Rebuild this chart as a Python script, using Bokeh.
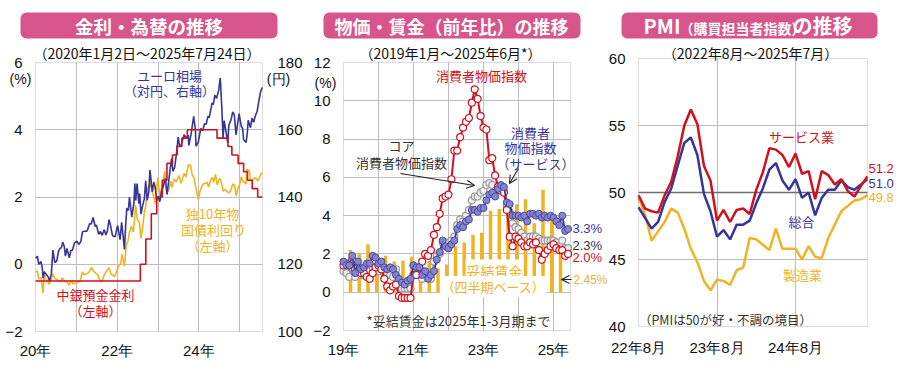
import json
import pandas as pd
from bokeh.plotting import figure
from bokeh.layouts import row
from bokeh.models import (Range1d, LinearAxis, FixedTicker, Label, BoxAnnotation, Grid,
                          Arrow, OpenHead, CustomJSTickFormatter)
from bokeh.embed import file_html
from bokeh.resources import INLINE

# ------------------------------------------------------------------ data
# Panel 1: ECB deposit rate (%), German 10y yield (%), EUR/JPY (yen)
ecb_dates = ["2020-01-02", "2022-07-27", "2022-09-14", "2022-11-02", "2022-12-21",
             "2023-02-08", "2023-03-22", "2023-05-10", "2023-06-21", "2023-08-02",
             "2023-09-20", "2024-06-12", "2024-09-18", "2024-10-23", "2024-12-18",
             "2025-02-05", "2025-03-12", "2025-04-23", "2025-06-11", "2025-07-24"]
ecb_rate = [-0.5, 0.0, 0.75, 1.5, 2.0, 2.5, 3.0, 3.25, 3.5, 3.75,
            4.0, 3.75, 3.5, 3.25, 3.0, 2.75, 2.5, 2.25, 2.0, 2.0]

bund_dates = ["2020-01-02", "2020-01-16", "2020-01-31", "2020-02-19", "2020-02-28", "2020-03-09",
              "2020-03-18", "2020-03-31", "2020-04-15", "2020-04-30", "2020-05-20", "2020-06-05",
              "2020-06-22", "2020-07-14", "2020-07-31", "2020-08-18", "2020-08-27", "2020-09-21",
              "2020-10-07", "2020-10-28", "2020-11-11", "2020-11-30", "2020-12-16", "2020-12-31",
              "2021-01-14", "2021-02-01", "2021-02-25", "2021-03-09", "2021-03-31", "2021-04-21",
              "2021-05-18", "2021-06-02", "2021-06-15", "2021-07-08", "2021-07-21", "2021-08-04",
              "2021-08-20", "2021-09-07", "2021-09-28", "2021-10-21", "2021-11-05", "2021-11-26",
              "2021-12-09", "2021-12-31", "2022-01-19", "2022-02-02", "2022-02-15", "2022-03-07",
              "2022-03-25", "2022-04-08", "2022-04-21", "2022-05-09", "2022-05-26", "2022-06-15",
              "2022-06-30", "2022-07-19", "2022-08-01", "2022-08-17", "2022-08-31", "2022-09-14",
              "2022-09-28", "2022-10-12", "2022-10-21", "2022-11-11", "2022-11-30", "2022-12-07",
              "2022-12-30", "2023-01-18", "2023-02-01", "2023-02-16", "2023-03-02", "2023-03-20",
              "2023-04-06", "2023-04-25", "2023-05-05", "2023-05-26", "2023-06-14", "2023-07-07",
              "2023-07-25", "2023-08-10", "2023-08-22", "2023-09-08", "2023-09-28", "2023-10-04",
              "2023-10-19", "2023-11-03", "2023-11-17", "2023-12-01", "2023-12-15", "2023-12-27",
              "2024-01-12", "2024-01-26", "2024-02-14", "2024-02-29", "2024-03-15", "2024-03-28",
              "2024-04-15", "2024-04-30", "2024-05-14", "2024-05-29", "2024-06-14", "2024-06-28",
              "2024-07-10", "2024-07-31", "2024-08-05", "2024-08-22", "2024-09-06", "2024-09-30",
              "2024-10-15", "2024-10-31", "2024-11-15", "2024-12-02", "2024-12-16", "2024-12-31",
              "2025-01-15", "2025-01-31", "2025-02-14", "2025-02-28", "2025-03-06", "2025-03-18",
              "2025-03-31", "2025-04-07", "2025-04-24", "2025-05-09", "2025-05-26", "2025-06-12",
              "2025-06-30", "2025-07-14", "2025-07-24"]
bund_yield = [-0.22, -0.20, -0.43, -0.40, -0.61, -0.86,
              -0.23, -0.47, -0.47, -0.59, -0.48, -0.28,
              -0.42, -0.46, -0.52, -0.50, -0.40, -0.52,
              -0.51, -0.63, -0.48, -0.57, -0.57, -0.57,
              -0.52, -0.52, -0.23, -0.30, -0.29, -0.25,
              -0.10, -0.20, -0.24, -0.30, -0.40, -0.50,
              -0.48, -0.32, -0.20, -0.10, -0.28, -0.34,
              -0.37, -0.18, -0.02, 0.02, 0.30, -0.06,
              0.59, 0.70, 0.95, 1.13, 0.96, 1.75,
              1.34, 1.24, 0.77, 1.09, 1.54, 1.73,
              2.26, 2.33, 2.42, 2.15, 1.93, 1.80,
              2.57, 2.02, 2.25, 2.45, 2.76, 2.14,
              2.19, 2.47, 2.29, 2.54, 2.45, 2.64,
              2.41, 2.55, 2.70, 2.60, 2.93, 2.96,
              2.93, 2.65, 2.60, 2.36, 2.12, 1.92,
              2.18, 2.30, 2.40, 2.40, 2.44, 2.30,
              2.50, 2.58, 2.45, 2.67, 2.36, 2.50,
              2.55, 2.30, 2.17, 2.23, 2.17, 2.12,
              2.21, 2.39, 2.35, 2.03, 2.24, 2.36,
              2.60, 2.46, 2.43, 2.39, 2.83, 2.81,
              2.73, 2.50, 2.47, 2.56, 2.56, 2.47,
              2.60, 2.71, 2.69]

fx_dates = ["2020-01-02", "2020-01-17", "2020-01-31", "2020-02-20", "2020-03-02", "2020-03-09",
            "2020-03-20", "2020-04-06", "2020-04-24", "2020-05-06", "2020-05-22", "2020-06-05",
            "2020-06-22", "2020-07-10", "2020-07-24", "2020-08-05", "2020-08-21", "2020-09-01",
            "2020-09-15", "2020-09-25", "2020-10-09", "2020-10-30", "2020-11-13", "2020-11-27",
            "2020-12-15", "2021-01-06", "2021-01-22", "2021-02-10", "2021-02-25", "2021-03-10",
            "2021-03-31", "2021-04-09", "2021-04-29", "2021-05-14", "2021-05-31", "2021-06-18",
            "2021-06-30", "2021-07-20", "2021-08-04", "2021-08-20", "2021-09-08", "2021-09-22",
            "2021-10-05", "2021-10-20", "2021-11-03", "2021-11-19", "2021-11-30", "2021-12-15",
            "2021-12-31", "2022-01-05", "2022-01-27", "2022-02-10", "2022-02-24", "2022-03-07",
            "2022-03-18", "2022-03-28", "2022-04-11", "2022-04-21", "2022-05-12", "2022-05-31",
            "2022-06-08", "2022-06-16", "2022-06-28", "2022-07-14", "2022-07-21", "2022-08-02",
            "2022-08-17", "2022-09-01", "2022-09-13", "2022-09-26", "2022-10-11", "2022-10-21",
            "2022-11-11", "2022-11-25", "2022-12-06", "2022-12-20", "2023-01-05", "2023-01-17",
            "2023-02-01", "2023-02-15", "2023-03-08", "2023-03-23", "2023-04-13", "2023-05-02",
            "2023-05-15", "2023-05-31", "2023-06-15", "2023-06-30", "2023-07-14", "2023-07-28",
            "2023-08-22", "2023-09-13", "2023-09-29", "2023-10-03", "2023-10-24", "2023-11-16",
            "2023-12-01", "2023-12-07", "2023-12-28", "2024-01-18", "2024-02-05", "2024-02-20",
            "2024-03-07", "2024-03-22", "2024-04-03", "2024-04-29", "2024-05-09", "2024-05-24",
            "2024-06-07", "2024-06-26", "2024-07-11", "2024-07-25", "2024-08-05", "2024-08-15",
            "2024-08-27", "2024-09-16", "2024-09-26", "2024-10-15", "2024-10-31", "2024-11-14",
            "2024-11-29", "2024-12-10", "2024-12-27", "2025-01-15", "2025-01-27", "2025-02-05",
            "2025-02-28", "2025-03-11", "2025-03-18", "2025-04-07", "2025-04-22", "2025-05-06",
            "2025-05-20", "2025-06-06", "2025-06-24", "2025-07-08", "2025-07-24"]
eurjpy = [121.8, 122.4, 120.0, 120.8, 118.8, 115.9,
          117.8, 117.0, 116.2, 115.0, 117.2, 124.2,
          120.5, 121.0, 123.7, 124.6, 125.0, 126.6,
          125.3, 122.4, 124.7, 121.9, 124.1, 124.2,
          126.3, 126.9, 125.9, 126.7, 129.6, 129.8,
          129.8, 130.0, 132.0, 132.0, 133.9, 131.3,
          131.6, 128.9, 129.8, 128.6, 130.3, 128.7,
          129.8, 133.3, 131.5, 128.7, 128.3, 128.2,
          130.9, 131.5, 127.3, 132.5, 128.1, 124.4,
          131.5, 136.7, 136.0, 140.0, 134.0, 138.3,
          144.0, 139.0, 144.0, 138.0, 141.0, 134.9,
          137.5, 139.5, 144.8, 139.0, 141.5, 148.0,
          141.5, 144.5, 143.0, 139.0, 140.2, 138.6,
          141.5, 143.0, 145.5, 140.8, 146.5, 151.4,
          147.6, 149.0, 153.0, 157.8, 155.0, 155.5,
          158.5, 157.5, 158.4, 155.3, 158.8, 164.0,
          160.0, 155.1, 156.4, 160.4, 159.7, 161.8,
          161.6, 164.0, 163.6, 168.0, 167.5, 170.3,
          169.3, 171.6, 175.4, 166.3, 157.5, 162.7,
          160.3, 156.1, 161.3, 162.9, 165.3, 164.4,
          158.5, 161.0, 164.8, 161.0, 160.5, 157.1,
          156.2, 159.4, 162.8, 160.6, 163.5, 162.2,
          164.0, 165.5, 169.0, 171.5, 172.6]

p1_xticks = [2020, 2021, 2022, 2023, 2024, 2025]
p1_xtick_labels = ["20年", "", "22年", "", "24年", ""]
p1_yticks = [-2, 0, 2, 4, 6]
p1_yen_ticks = [100, 120, 140, 160, 180]

# Panel 2: euro-area HICP y/y (%), monthly from 2019-01; negotiated wages quarterly from 2019Q1
hicp = [1.4, 1.5, 1.4, 1.7, 1.2, 1.3, 1.0, 1.0, 0.8, 0.7, 1.0, 1.3,
        1.4, 1.2, 0.7, 0.3, 0.1, 0.3, 0.4, -0.2, -0.3, -0.3, -0.3, -0.3,
        0.9, 0.9, 1.3, 1.6, 2.0, 1.9, 2.2, 3.0, 3.4, 4.1, 4.9, 5.0,
        5.1, 5.9, 7.4, 7.4, 8.1, 8.6, 8.9, 9.1, 9.9, 10.6, 10.1, 9.2,
        8.6, 8.5, 6.9, 7.0, 6.1, 5.5, 5.3, 5.2, 4.3, 2.9, 2.4, 2.9,
        2.8, 2.6, 2.4, 2.4, 2.6, 2.5, 2.6, 2.2, 1.7, 2.0, 2.2, 2.4,
        2.5, 2.3, 2.2, 2.2, 1.9, 2.0]
hicp_core = [1.1, 1.0, 0.8, 1.3, 0.8, 1.1, 0.9, 0.9, 1.0, 1.1, 1.3, 1.3,
             1.1, 1.2, 1.0, 0.9, 0.9, 0.8, 1.2, 0.4, 0.2, 0.2, 0.2, 0.2,
             1.4, 1.1, 0.9, 0.7, 1.0, 0.9, 0.7, 1.6, 1.9, 2.0, 2.6, 2.6,
             2.3, 2.7, 2.9, 3.5, 3.8, 3.7, 4.0, 4.3, 4.8, 5.0, 5.0, 5.2,
             5.3, 5.6, 5.7, 5.6, 5.3, 5.5, 5.5, 5.3, 4.5, 4.2, 3.6, 3.4,
             3.3, 3.1, 2.9, 2.7, 2.9, 2.9, 2.9, 2.8, 2.7, 2.7, 2.7, 2.7,
             2.7, 2.6, 2.4, 2.7, 2.3, 2.3]
hicp_services = [1.6, 1.4, 1.4, 1.9, 1.0, 1.6, 1.2, 1.3, 1.5, 1.5, 1.9, 1.8,
                 1.5, 1.6, 1.3, 1.2, 1.3, 1.2, 0.9, 0.7, 0.5, 0.4, 0.6, 0.7,
                 1.4, 1.3, 1.3, 0.9, 1.1, 0.7, 0.9, 1.1, 1.7, 2.1, 2.7, 2.4,
                 2.3, 2.5, 2.7, 3.3, 3.5, 3.4, 3.7, 3.8, 4.3, 4.3, 4.2, 4.4,
                 4.4, 4.8, 5.1, 5.2, 5.0, 5.4, 5.6, 5.5, 4.7, 4.6, 4.0, 4.0,
                 4.0, 3.9, 4.0, 3.7, 4.1, 4.1, 4.0, 4.1, 3.9, 4.0, 3.9, 4.0,
                 3.9, 3.7, 3.5, 4.0, 3.2, 3.3]
wages = [2.2, 2.0, 2.5, 2.0, 1.9, 1.6, 1.65, 1.85, 1.35, 1.65, 1.25, 1.45,
         2.4, 2.6, 3.0, 3.1, 4.25, 4.35, 4.5, 4.6, 4.85, 3.6, 5.35, 4.0, 2.45]

p2_xticks = [2019, 2020, 2021, 2022, 2023, 2024, 2025]
p2_xtick_labels = ["19年", "", "21年", "", "23年", "", "25年"]
p2_yticks = [-2, 0, 2, 4, 6, 8, 10, 12]

# Panel 3: euro-area PMI, monthly 2022-08 .. 2025-07
pmi_composite = [48.9, 48.1, 47.3, 47.8, 49.3, 50.3, 52.0, 53.7, 54.1, 52.8, 49.9, 48.6,
                 46.7, 47.2, 46.5, 47.6, 47.6, 47.9, 49.2, 50.3, 51.7, 52.2, 50.9, 50.2,
                 51.0, 49.6, 50.0, 48.3, 49.6, 50.2, 50.2, 50.9, 50.4, 50.2, 50.6, 51.0]
pmi_services = [49.8, 48.8, 48.6, 48.5, 49.8, 50.8, 52.7, 55.0, 56.2, 55.1, 52.0, 50.9,
                47.9, 48.7, 47.8, 48.7, 48.8, 48.4, 50.2, 51.5, 53.3, 53.2, 52.8, 51.9,
                52.9, 51.4, 51.6, 49.5, 51.6, 51.3, 50.6, 51.0, 50.1, 49.7, 50.5, 51.2]
pmi_manufacturing = [49.6, 48.4, 46.4, 47.1, 47.8, 48.8, 48.5, 47.3, 45.8, 44.8, 43.4, 42.7,
                     43.5, 43.4, 43.1, 44.2, 44.4, 46.6, 46.5, 46.1, 45.7, 47.3, 45.8, 45.8,
                     45.8, 45.0, 46.0, 45.2, 45.1, 46.6, 47.6, 48.6, 49.0, 49.4, 49.5, 49.8]

p3_xticks = [0, 12, 24]
p3_xtick_labels = ["22年8月", "23年8月", "24年8月"]
p3_yticks = [40, 45, 50, 55, 60]

# ------------------------------------------------------------------ styles
JP = "Noto Sans CJK JP"
NUM = "Liberation Sans"
PINK = "#D8558B"
BLUE = "#35359A"
RED = "#D0101E"
YEL = "#F0B323"
DARK = "#333333"
GRID = "#BDBDBD"
FRAME = "#8C8C8C"
H = 368


def dec(s):
    t = pd.Timestamp(s)
    n = 366 if t.is_leap_year else 365
    return t.year + (t.dayofyear - 1) / n


class Panel:
    """A figure whose frame fills the whole figure; the plot box sits inside it."""
    def __init__(self, fig_left, fig_width, l, r, t, b, x0, x1, y0, y1):
        self.fl, self.fw = fig_left, fig_width
        self.l, self.r, self.t, self.b = l, r, t, b
        self.x0, self.x1, self.y0, self.y1 = x0, x1, y0, y1

    def x(self, px):
        return self.x0 + (px - self.l) / (self.r - self.l) * (self.x1 - self.x0)

    def y(self, py):
        return self.y1 - (py - self.t) / (self.b - self.t) * (self.y1 - self.y0)

    def figure(self):
        p = figure(width=self.fw, height=H,
                   x_range=Range1d(self.x(self.fl), self.x(self.fl + self.fw)),
                   y_range=Range1d(self.y(H), self.y(0)),
                   x_axis_type=None, y_axis_type=None,
                   output_backend="svg", toolbar_location=None, title=None, min_border=0)
        p.outline_line_color = None
        p.background_fill_color = "white"
        p.border_fill_color = "white"
        return p


def style_axis(ax, standoff, ticks, labels=None):
    ax.ticker = FixedTicker(ticks=ticks)
    ax.axis_line_color = None
    ax.major_tick_line_color = None
    ax.minor_tick_line_color = None
    ax.major_tick_out = 0
    ax.major_tick_in = 0
    ax.major_label_text_font = NUM
    ax.major_label_text_font_size = "15px"
    ax.major_label_text_color = "#111111"
    ax.major_label_standoff = standoff
    if labels is not None:
        mapping = json.dumps({str(t): s for t, s in zip(ticks, labels)}, ensure_ascii=False)
        ax.formatter = CustomJSTickFormatter(
            code="const m = %s; const k = String(Math.round(tick)); return (k in m) ? m[k] : '';" % mapping)


def add_grid(p, P, dim, ticks, color=GRID, width=1):
    cross = (P.y0, P.y1) if dim == 0 else (P.x0, P.x1)
    g = Grid(dimension=dim, ticker=FixedTicker(ticks=ticks), grid_line_color=color,
             grid_line_width=width)
    try:
        g.cross_bounds = cross
        p.add_layout(g)
    except AttributeError:
        for t in ticks:
            if dim == 0:
                p.segment(x0=[t], y0=[P.y0], x1=[t], y1=[P.y1], line_color=color, line_width=width)
            else:
                p.segment(x0=[P.x0], y0=[t], x1=[P.x1], y1=[t], line_color=color, line_width=width)


def plot_box(p, P):
    p.add_layout(BoxAnnotation(left=P.x0, right=P.x1, bottom=P.y0, top=P.y1,
                               fill_color=None, line_color=FRAME, line_width=1))


def lab(p, P, px, py, text, color, size="13px", align="center", font=None, bold=False, bg=None):
    l = Label(x=P.x(px), y=P.y(py), text=text, text_color=color,
              text_font=font or JP, text_font_size=size, text_align=align,
              text_baseline="middle", text_font_style="bold" if bold else "normal")
    if bg is not None:
        l.background_fill_color = bg
        l.padding = 1
    p.add_layout(l)


def title_box(p, P, l, r, t, b):
    p.add_layout(BoxAnnotation(left=P.x(l), right=P.x(r), top=P.y(t), bottom=P.y(b),
                               fill_color=PINK, fill_alpha=1.0, line_color=None,
                               border_radius=6))


def arrow(p, P, x0, y0, x1, y1, color="#222222"):
    p.add_layout(Arrow(end=OpenHead(size=8, line_color=color, line_width=1.1),
                       x_start=P.x(x0), y_start=P.y(y0), x_end=P.x(x1), y_end=P.y(y1),
                       line_color=color, line_width=1.1))


# ------------------------------------------------------------------ panel 1
P1 = Panel(0, 304, 35, 262, 62, 331, 2020.0, dec("2025-07-24"), -2, 6)
p1 = P1.figure()
yen_lo = 100 + (P1.y(H) + 2) * 10
yen_hi = 100 + (P1.y(0) + 2) * 10
p1.extra_y_ranges = {"yen": Range1d(yen_lo, yen_hi)}

add_grid(p1, P1, 0, p1_xticks[1:])
add_grid(p1, P1, 1, p1_yticks[1:-1])

ax = LinearAxis(fixed_location=P1.y0)
style_axis(ax, 10, p1_xticks, p1_xtick_labels)
p1.add_layout(ax, "below")
ax = LinearAxis(fixed_location=P1.x0)
style_axis(ax, 13, p1_yticks)
p1.add_layout(ax, "left")
ax = LinearAxis(fixed_location=P1.x1, y_range_name="yen")
style_axis(ax, 15, p1_yen_ticks)
p1.add_layout(ax, "right")

p1.line([dec(d) for d in bund_dates], bund_yield, color=YEL, line_width=1.6)
p1.line([dec(d) for d in fx_dates], eurjpy, color=BLUE, line_width=1.6, y_range_name="yen")
p1.step([dec(d) for d in ecb_dates], ecb_rate, mode="after", color=RED, line_width=1.6)
plot_box(p1, P1)

title_box(p1, P1, 20, 277, 12, 38)
lab(p1, P1, 148.5, 25, "金利・為替の推移", "white", size="18.5px", bold=True)
lab(p1, P1, 146.5, 52, "（2020年1月2日～2025年7月24日）", "#111111", size="14px")
lab(p1, P1, 20, 78, "(%)", "#111111", size="14px", font=NUM)
lab(p1, P1, 278, 78, "(円)", "#111111", size="14px", font=NUM)
lab(p1, P1, 169, 75, "ユーロ相場", BLUE)
lab(p1, P1, 169, 90, "（対円、右軸）", BLUE)
lab(p1, P1, 212, 213, "独10年物", YEL)
lab(p1, P1, 213, 229, "国債利回り", YEL)
lab(p1, P1, 212, 245, "（左軸）", YEL)
lab(p1, P1, 95, 294, "中銀預金金利", RED)
lab(p1, P1, 95, 310, "（左軸）", RED)

# ------------------------------------------------------------------ panel 2
P2 = Panel(304, 303, 343, 570, 62, 330, 2019.0, 2019.0 + 227 / 35, -2, 12)
p2 = P2.figure()
add_grid(p2, P2, 0, p2_xticks[1:])
add_grid(p2, P2, 1, p2_yticks[1:-1])
ax = LinearAxis(fixed_location=P2.y0)
style_axis(ax, 10, p2_xticks, p2_xtick_labels)
p2.add_layout(ax, "below")
ax = LinearAxis(fixed_location=P2.x0)
style_axis(ax, 13, p2_yticks)
p2.add_layout(ax, "left")

xm = [2019 + i / 12 for i in range(len(hicp))]
xq = [2019 + i / 4 + 0.2 for i in range(len(wages))]
p2.vbar(x=xq, top=wages, bottom=0, width=0.1, fill_color=YEL, line_color=None)
p2.line(xm, hicp_core, color="#9A9A9A", line_width=1.8)
p2.scatter(xm, hicp_core, size=7, fill_color="#EFEFEF", line_color="#9A9A9A", line_width=1.2)
p2.line(xm, hicp, color=RED, line_width=2)
p2.scatter(xm, hicp, size=7, fill_color="white", line_color=RED, line_width=1.2)
p2.line(xm, hicp_services, color=BLUE, line_width=1.8)
p2.scatter(xm, hicp_services, size=7, fill_color="#8484CF", line_color="#4A4AA0", line_width=1.0)
plot_box(p2, P2)

title_box(p2, P2, 323, 580, 12, 38)
lab(p2, P2, 451, 25, "物価・賃金（前年比）の推移", "white", size="18px", bold=True)
lab(p2, P2, 450, 52, "（2019年1月～2025年6月*）", "#111111", size="14px")
lab(p2, P2, 325, 82, "(%)", "#111111", size="14px", font=NUM)
lab(p2, P2, 481, 75, "消費者物価指数", RED)
lab(p2, P2, 401, 145, "コア", DARK)
lab(p2, P2, 401, 162, "消費者物価指数", DARK)
lab(p2, P2, 530, 132, "消費者", BLUE)
lab(p2, P2, 530, 147, "物価指数", BLUE)
lab(p2, P2, 535, 163, "（サービス）", BLUE)
arrow(p2, P2, 400, 173, 474, 185)
arrow(p2, P2, 518, 168, 509, 183)
lab(p2, P2, 572, 228, "3.3%", BLUE, align="left", font=NUM)
lab(p2, P2, 572, 245, "2.3%", DARK, align="left", font=NUM)
lab(p2, P2, 572, 257, "2.0%", RED, align="left", font=NUM)
lab(p2, P2, 494, 270, "妥結賃金", YEL, size="14px", bg="white")
lab(p2, P2, 493, 286, "（四半期ベース）", YEL, bg="white")
arrow(p2, P2, 571, 279, 561, 279)
lab(p2, P2, 573, 279, "2.45%", YEL, size="12px", align="left", font=NUM)
lab(p2, P2, 458, 320, "*妥結賃金は2025年1-3月期まで", DARK)

# ------------------------------------------------------------------ panel 3
P3 = Panel(607, 293, 638, 867, 58, 326, 0, 35, 40, 60)
p3 = P3.figure()
add_grid(p3, P3, 0, p3_xticks[1:])
add_grid(p3, P3, 1, [45, 55])
add_grid(p3, P3, 1, [50], color="#6E6E6E", width=1.3)
ax = LinearAxis(fixed_location=P3.y0)
style_axis(ax, 12, p3_xticks, p3_xtick_labels)
p3.add_layout(ax, "below")
ax = LinearAxis(fixed_location=P3.x0)
style_axis(ax, 13, p3_yticks)
p3.add_layout(ax, "left")

xi = list(range(len(pmi_composite)))
p3.line(xi, pmi_manufacturing, color=YEL, line_width=2.5)
p3.line(xi, pmi_composite, color=BLUE, line_width=2.5)
p3.line(xi, pmi_services, color=RED, line_width=2.5)
plot_box(p3, P3)

title_box(p3, P3, 621, 877, 12, 38)
lab(p3, P3, 643, 25, "PMI", "white", size="20px", align="left", bold=True)
lab(p3, P3, 679, 27, "（購買担当者指数）", "white", size="14px", align="left", bold=True)
lab(p3, P3, 792, 25, "の推移", "white", size="20px", align="left", bold=True)
lab(p3, P3, 750, 52, "（2022年8月～2025年7月）", "#111111", size="14px")
lab(p3, P3, 801, 136, "サービス業", RED)
lab(p3, P3, 801, 221, "総合", BLUE)
lab(p3, P3, 802, 274, "製造業", YEL)
lab(p3, P3, 868, 168, "51.2", RED, align="left", font=NUM)
lab(p3, P3, 868, 183, "51.0", BLUE, align="left", font=NUM)
lab(p3, P3, 868, 197, "49.8", YEL, align="left", font=NUM)
lab(p3, P3, 725, 319, "（PMIは50が好・不調の境目）", DARK, size="12.5px")

layout = row(p1, p2, p3)
open("out.html", "w").write(file_html(layout, INLINE))
